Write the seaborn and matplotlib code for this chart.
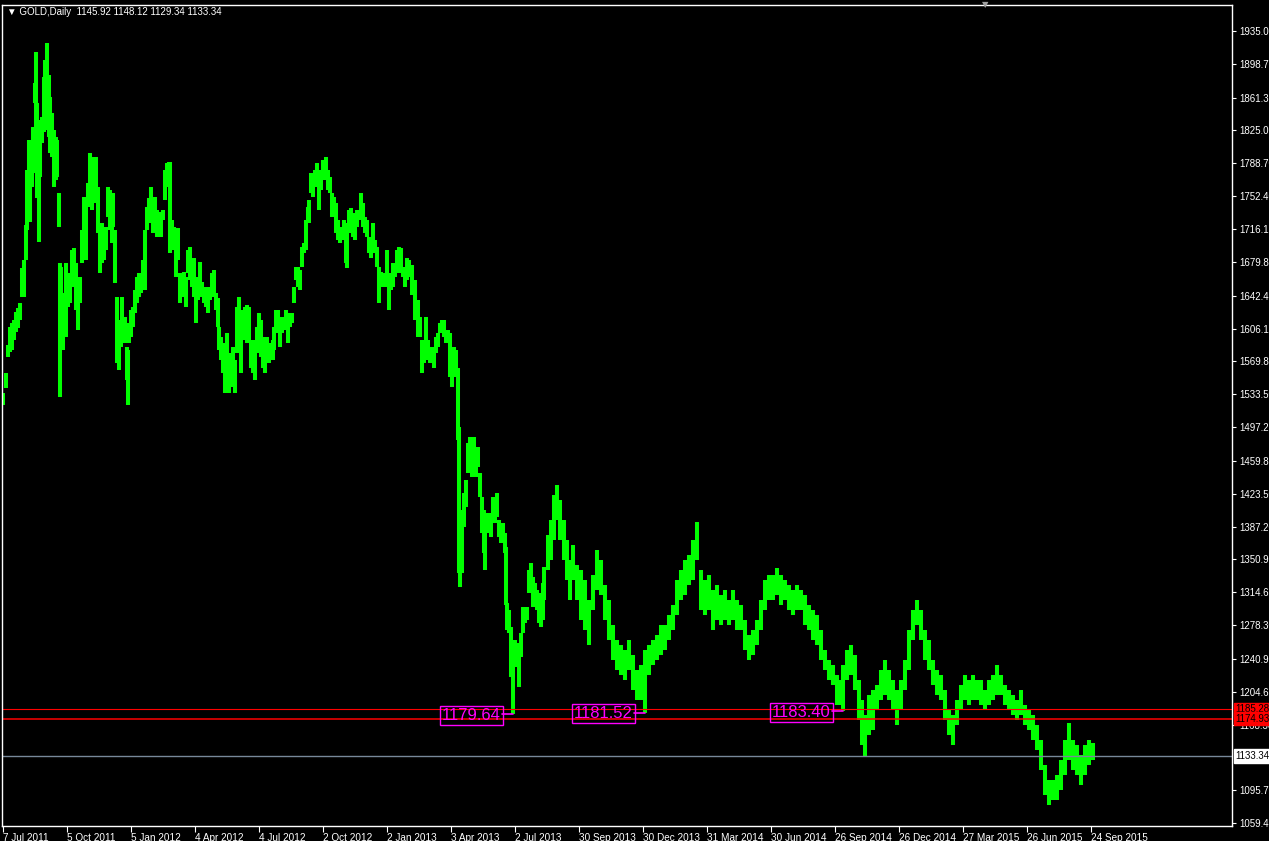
import numpy as np
import pandas as pd
import matplotlib
matplotlib.use("Agg")
import matplotlib.pyplot as plt
import matplotlib.transforms as mtransforms
import seaborn as sns

# daily bars (sampled), bar index counted from 7 Jul 2011
bar_idx = [
    0, 3, 5, 7, 9, 11, 13, 15, 17, 19,
    21, 23, 24, 26, 27, 29, 30, 32, 33, 34,
    36, 37, 39, 41, 42, 44, 46, 47, 49, 51,
    53, 54, 56, 57, 58, 60, 61, 63, 65, 67,
    69, 71, 73, 75, 77, 79, 81, 83, 85, 87,
    89, 91, 93, 95, 97, 99, 101, 103, 105, 107,
    109, 110, 112, 114, 116, 118, 119, 121, 122, 124,
    125, 126, 128, 130, 132, 134, 136, 138, 140, 142,
    144, 146, 148, 150, 152, 154, 156, 158, 160, 162,
    164, 166, 167, 169, 171, 173, 175, 177, 179, 181,
    183, 185, 187, 189, 191, 193, 195, 197, 199, 201,
    203, 205, 207, 209, 211, 213, 215, 216, 218, 220,
    222, 224, 226, 228, 230, 232, 234, 236, 238, 240,
    242, 244, 246, 248, 250, 252, 254, 256, 258, 260,
    262, 264, 266, 268, 270, 271, 273, 275, 277, 279,
    281, 283, 285, 287, 289, 291, 293, 295, 297, 299,
    301, 303, 305, 306, 308, 310, 312, 314, 316, 318,
    320, 322, 323, 325, 327, 329, 331, 333, 335, 337,
    339, 341, 343, 344, 346, 348, 350, 352, 354, 356,
    358, 360, 362, 364, 366, 368, 370, 372, 374, 376,
    378, 380, 382, 384, 386, 388, 390, 392, 394, 396,
    398, 400, 402, 404, 406, 409, 412, 415, 417, 419,
    421, 423, 425, 427, 429, 431, 433, 435, 437, 439,
    441, 443, 445, 447, 449, 451, 453, 455, 456, 457,
    459, 461, 463, 465, 467, 469, 471, 473, 475, 477,
    479, 481, 482, 484, 486, 488, 490, 492, 494, 496,
    498, 500, 502, 503, 504, 506, 508, 510, 512, 514,
    516, 518, 520, 522, 524, 526, 528, 530, 532, 534,
    536, 538, 540, 541, 545, 548, 551, 554, 557, 561,
    564, 567, 570, 574, 578, 582, 586, 590, 594, 598,
    602, 606, 610, 614, 618, 622, 626, 630, 634, 638,
    642, 646, 650, 654, 658, 662, 666, 670, 674, 678,
    682, 686, 690, 694, 698, 702, 706, 710, 714, 718,
    722, 726, 730, 734, 738, 742, 746, 750, 754, 758,
    762, 766, 770, 774, 778, 782, 786, 790, 794, 798,
    802, 806, 810, 814, 818, 822, 826, 830, 834, 836,
    840, 844, 848, 852, 856, 859, 862, 866, 870, 874,
    878, 882, 886, 890, 894, 898, 902, 906, 910, 914,
    918, 922, 926, 930, 934, 938, 942, 946, 950, 954,
    958, 962, 966, 970, 974, 978, 982, 986, 990, 994,
    998, 1002, 1006, 1010, 1014, 1018, 1022, 1026, 1030, 1034,
    1038, 1042, 1046, 1050, 1054, 1058, 1062, 1066, 1070, 1074,
    1078, 1082, 1086, 1090,
]
high = [
    1535, 1557, 1588, 1608, 1612, 1616, 1624, 1629, 1634, 1673,
    1682, 1721, 1781, 1815, 1768, 1795, 1829, 1878, 1912, 1855,
    1781, 1837, 1840, 1884, 1903, 1922, 1886, 1862, 1844, 1826,
    1818, 1815, 1756, 1679, 1674, 1641, 1645, 1679, 1656, 1667,
    1693, 1695, 1679, 1649, 1663, 1715, 1751, 1745, 1767, 1800,
    1796, 1789, 1796, 1763, 1715, 1723, 1704, 1718, 1763, 1759,
    1745, 1756, 1715, 1641, 1597, 1616, 1641, 1618, 1619, 1586,
    1582, 1612, 1627, 1630, 1649, 1663, 1667, 1667, 1682, 1715,
    1740, 1750, 1763, 1746, 1751, 1737, 1729, 1735, 1737, 1781,
    1789, 1790, 1790, 1726, 1718, 1707, 1717, 1667, 1667, 1669,
    1663, 1693, 1696, 1682, 1684, 1649, 1663, 1680, 1658, 1649,
    1652, 1649, 1652, 1667, 1671, 1645, 1640, 1608, 1597, 1590,
    1571, 1601, 1579, 1575, 1586, 1571, 1630, 1641, 1616, 1627,
    1630, 1632, 1630, 1593, 1586, 1593, 1608, 1623, 1616, 1597,
    1593, 1597, 1590, 1590, 1593, 1608, 1627, 1627, 1616, 1619,
    1619, 1627, 1616, 1623, 1623, 1652, 1674, 1674, 1671, 1696,
    1701, 1726, 1740, 1748, 1778, 1774, 1781, 1789, 1774, 1781,
    1792, 1785, 1796, 1781, 1774, 1756, 1751, 1745, 1726, 1718,
    1718, 1726, 1723, 1715, 1737, 1739, 1734, 1723, 1737, 1734,
    1756, 1745, 1729, 1726, 1707, 1704, 1723, 1704, 1696, 1674,
    1669, 1667, 1667, 1693, 1663, 1667, 1679, 1674, 1693, 1696,
    1695, 1674, 1671, 1684, 1682, 1676, 1660, 1638, 1619, 1593,
    1590, 1619, 1593, 1586, 1586, 1586, 1597, 1601, 1612, 1616,
    1616, 1604, 1604, 1601, 1579, 1586, 1582, 1563, 1497, 1405,
    1405, 1424, 1439, 1480, 1486, 1480, 1486, 1472, 1475, 1446,
    1420, 1405, 1402, 1402, 1398, 1402, 1420, 1420, 1424, 1394,
    1387, 1391, 1380, 1365, 1303, 1295, 1276, 1262, 1262, 1258,
    1258, 1269, 1298, 1295, 1298, 1339, 1347, 1331, 1325, 1317,
    1314, 1306, 1325, 1342, 1378, 1394, 1422, 1433, 1416, 1394,
    1372, 1350, 1367, 1345, 1339, 1328, 1306, 1334, 1361, 1350,
    1323, 1306, 1278, 1262, 1256, 1251, 1262, 1245, 1229, 1234,
    1251, 1256, 1262, 1267, 1278, 1278, 1289, 1300, 1328, 1339,
    1350, 1356, 1372, 1392, 1339, 1328, 1334, 1317, 1323, 1312,
    1317, 1306, 1317, 1306, 1300, 1284, 1267, 1273, 1284, 1306,
    1328, 1334, 1334, 1341, 1334, 1328, 1323, 1317, 1323, 1317,
    1312, 1300, 1295, 1289, 1273, 1251, 1240, 1234, 1223, 1218,
    1234, 1251, 1256, 1245, 1218, 1195, 1179, 1201, 1206, 1212,
    1229, 1240, 1229, 1218, 1206, 1218, 1240, 1273, 1295, 1306,
    1295, 1273, 1262, 1240, 1229, 1223, 1206, 1184, 1179, 1195,
    1212, 1223, 1218, 1223, 1218, 1218, 1206, 1218, 1223, 1234,
    1223, 1212, 1206, 1201, 1195, 1206, 1190, 1184, 1179, 1168,
    1151, 1124, 1107, 1107, 1113, 1129, 1151, 1170, 1151, 1146,
    1135, 1146, 1151, 1148.12,
]
low = [
    1522, 1540, 1575, 1580, 1582, 1593, 1602, 1607, 1616, 1641,
    1641, 1682, 1715, 1726, 1724, 1763, 1778, 1855, 1826, 1750,
    1702, 1774, 1811, 1823, 1826, 1881, 1818, 1800, 1796, 1763,
    1770, 1774, 1718, 1530, 1616, 1582, 1612, 1597, 1630, 1634,
    1652, 1663, 1627, 1604, 1634, 1679, 1707, 1682, 1740, 1763,
    1737, 1745, 1759, 1712, 1667, 1679, 1682, 1693, 1729, 1715,
    1701, 1718, 1656, 1568, 1560, 1586, 1597, 1599, 1590, 1549,
    1522, 1590, 1597, 1608, 1623, 1634, 1641, 1645, 1652, 1649,
    1715, 1723, 1726, 1712, 1726, 1707, 1715, 1707, 1726, 1748,
    1767, 1763, 1690, 1693, 1693, 1663, 1682, 1634, 1645, 1641,
    1630, 1667, 1660, 1652, 1641, 1612, 1638, 1652, 1641, 1634,
    1630, 1623, 1638, 1649, 1641, 1627, 1608, 1582, 1571, 1557,
    1535, 1557, 1535, 1549, 1541, 1535, 1579, 1601, 1557, 1593,
    1608, 1590, 1593, 1563, 1557, 1549, 1579, 1593, 1575, 1563,
    1557, 1571, 1568, 1575, 1571, 1582, 1601, 1608, 1586, 1601,
    1604, 1608, 1590, 1608, 1612, 1634, 1660, 1652, 1649, 1674,
    1690, 1693, 1726, 1723, 1756, 1751, 1767, 1763, 1737, 1759,
    1770, 1774, 1770, 1759, 1756, 1729, 1734, 1712, 1704, 1701,
    1704, 1712, 1679, 1673, 1712, 1718, 1707, 1704, 1718, 1726,
    1729, 1718, 1712, 1707, 1690, 1684, 1704, 1690, 1674, 1634,
    1652, 1652, 1652, 1660, 1627, 1649, 1652, 1663, 1667, 1682,
    1667, 1663, 1652, 1660, 1663, 1643, 1616, 1597, 1597, 1557,
    1568, 1575, 1571, 1568, 1575, 1563, 1579, 1586, 1601, 1601,
    1597, 1590, 1593, 1552, 1541, 1563, 1552, 1483, 1336, 1320,
    1336, 1387, 1409, 1446, 1464, 1442, 1453, 1442, 1453, 1420,
    1380, 1358, 1339, 1380, 1383, 1376, 1394, 1391, 1398, 1376,
    1369, 1372, 1358, 1300, 1273, 1269, 1221, 1179.64, 1232, 1240,
    1210, 1243, 1269, 1281, 1284, 1314, 1320, 1298, 1306, 1295,
    1281, 1276, 1284, 1306, 1339, 1350, 1372, 1394, 1372, 1350,
    1328, 1306, 1328, 1306, 1284, 1273, 1256, 1295, 1317, 1312,
    1284, 1262, 1240, 1229, 1223, 1218, 1229, 1206, 1195, 1195,
    1181.52, 1223, 1234, 1240, 1245, 1251, 1262, 1273, 1289, 1306,
    1312, 1323, 1328, 1350, 1295, 1289, 1295, 1273, 1284, 1278,
    1284, 1278, 1284, 1273, 1273, 1251, 1240, 1245, 1256, 1273,
    1295, 1306, 1306, 1312, 1300, 1306, 1295, 1289, 1295, 1295,
    1278, 1273, 1262, 1256, 1240, 1229, 1218, 1212, 1190, 1190,
    1183.40, 1218, 1223, 1206, 1173, 1146, 1132, 1157, 1162, 1184,
    1195, 1201, 1195, 1184, 1168, 1184, 1206, 1229, 1262, 1278,
    1262, 1240, 1229, 1212, 1201, 1195, 1173, 1157, 1146, 1168,
    1184, 1195, 1190, 1195, 1195, 1190, 1184, 1190, 1195, 1201,
    1201, 1190, 1184, 1179, 1173, 1179, 1168, 1162, 1151, 1140,
    1118, 1090, 1079, 1085, 1085, 1096, 1113, 1129, 1118, 1113,
    1101, 1113, 1124, 1129.34,
]
assert len(bar_idx) == len(high) == len(low)

date_ticks = [0, 64, 128, 192, 256, 320, 384, 448, 512, 576,
              640, 704, 768, 832, 896, 960, 1024, 1088]
date_labels = ["7 Jul 2011", "5 Oct 2011", "5 Jan 2012", "4 Apr 2012",
               "4 Jul 2012", "2 Oct 2012", "2 Jan 2013", "3 Apr 2013",
               "2 Jul 2013", "30 Sep 2013", "30 Dec 2013", "31 Mar 2014",
               "30 Jun 2014", "26 Sep 2014", "26 Dec 2014", "27 Mar 2015",
               "26 Jun 2015", "24 Sep 2015"]
price_ticks = [1935.00, 1898.70, 1861.30, 1825.00, 1788.70, 1752.40,
               1716.10, 1679.80, 1642.40, 1606.10, 1569.80, 1533.50,
               1497.20, 1459.80, 1423.50, 1387.20, 1350.90, 1314.60,
               1278.30, 1240.90, 1204.60, 1168.30, 1095.70, 1059.40]

red_levels = [1185.28, 1174.93]
last_close = 1133.34
lows_marked = [(510, 1179.64), (642, 1181.52), (840, 1183.40)]
title = "\u25BC GOLD,Daily  1145.92 1148.12 1129.34 1133.34"

sns.set_theme(style="dark", rc={"axes.facecolor": "black",
                                "figure.facecolor": "black"})
plt.rcParams["font.family"] = ["Liberation Sans", "DejaVu Sans"]

df = pd.DataFrame({
    "idx": bar_idx + bar_idx,
    "price": high + low,
})

fig = plt.figure(figsize=(12.69, 8.41), dpi=100)
fig.patch.set_facecolor("black")
ax = fig.add_axes([2 / 1269, 15 / 841, 1230 / 1269, 821 / 841])
ax.set_facecolor("black")

sns.lineplot(data=df, x="idx", y="price", units="idx", estimator=None,
             color="#00ff00", lw=2.9, solid_capstyle="butt", legend=False, ax=ax)

ax.axhline(red_levels[0], color="#ff0000", lw=0.8)
ax.axhline(red_levels[1], color="#ff0000", lw=1.1)
ax.axhline(last_close, color="#778899", lw=1.0)

# marked lows with magenta boxes
for bi, val in lows_marked:
    right = bi - 11
    ax.plot([right, bi], [val, val], color="#ff00ff", lw=1.2)
    ax.text(right - 1.5, val - 1.5, f"{val:.2f}", color="#ff00ff", fontsize=12,
            ha="right", va="center",
            bbox=dict(boxstyle="square,pad=0.12", facecolor="none",
                      edgecolor="#ff00ff", lw=1.0))

ax.set_xlim(-1, 1229)
ax.set_ylim(1056.2, 1963.7)
ax.set_xlabel("")
ax.set_ylabel("")
ax.grid(False)

for sp in ax.spines.values():
    sp.set_color("white")
    sp.set_linewidth(1.0)
    sp.set_visible(True)

ax.yaxis.tick_right()
ax.set_yticks(price_ticks, labels=[f"{v:.2f}" for v in price_ticks])
ax.tick_params(axis="y", colors="white", direction="out", length=3, width=0.8,
               pad=2, labelsize=7, right=True, left=False,
               labelright=True, labelleft=False)
ax.set_xticks(date_ticks, labels=date_labels)
ax.tick_params(axis="x", colors="white", direction="out", length=4, width=0.8,
               pad=1, labelsize=7.2, bottom=True)
for lbl in ax.get_xticklabels():
    lbl.set_ha("left")

# price labels on the right scale
trans = mtransforms.blended_transform_factory(ax.transAxes, ax.transData)
for val in red_levels:
    ax.text(1.003, val, f"{val:.2f}", transform=trans, color="black",
            fontsize=7, ha="left", va="center", clip_on=False, zorder=5,
            bbox=dict(boxstyle="square,pad=0.15", facecolor="#ff0000",
                      edgecolor="#ff0000"))
ax.text(1.003, last_close, f"{last_close:.2f}", transform=trans, color="black",
        fontsize=7, ha="left", va="center", clip_on=False, zorder=5,
        bbox=dict(boxstyle="square,pad=0.2", facecolor="white",
                  edgecolor="white"))

fig.text(7 / 1269, 1 - 12 / 841, title, color="white", fontsize=7,
         ha="left", va="center")
fig.text(985 / 1269, 1 - 5 / 841, "\u25BC", color="#a0a0a0", fontsize=6,
         ha="center", va="center", family=["DejaVu Sans"])

fig.savefig("out.png", dpi=100, facecolor="black")
